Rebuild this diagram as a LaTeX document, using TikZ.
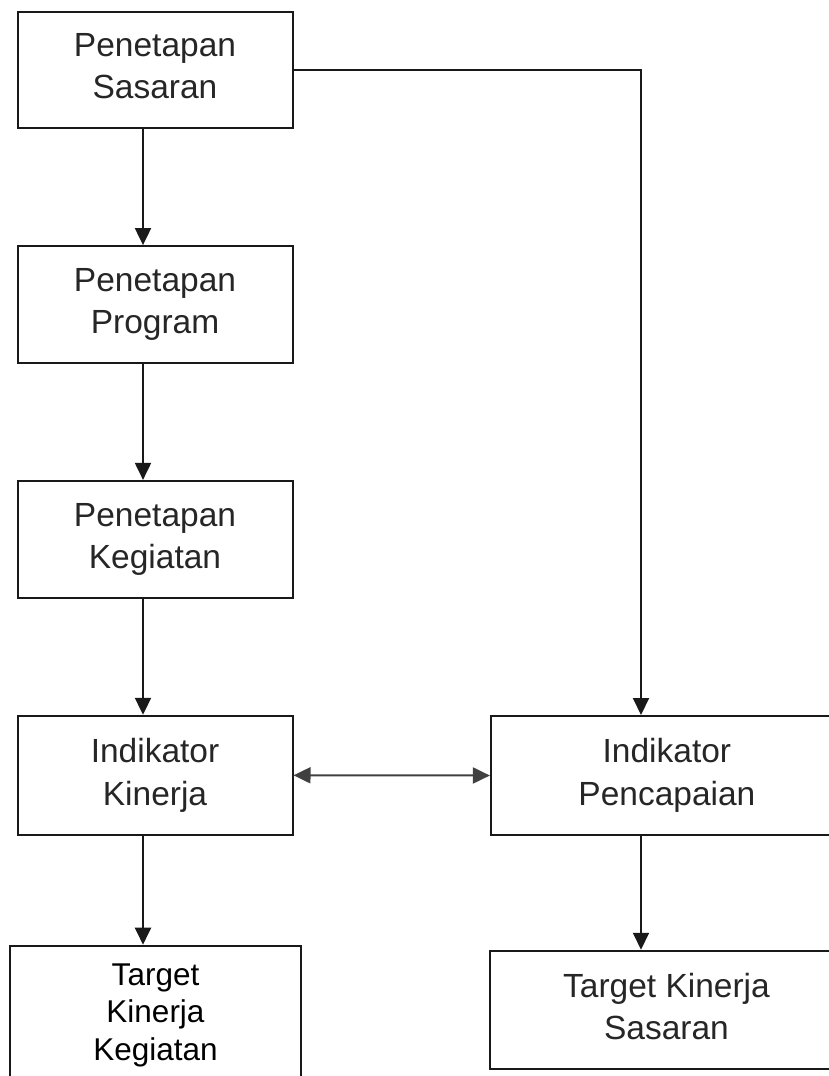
\documentclass[tikz,border=0pt]{standalone}
\usepackage{fontspec}
\setmainfont{Liberation Sans}
\usetikzlibrary{arrows.meta,calc}
\begin{document}
\begin{tikzpicture}[x=1pt,y=-1pt,
  box/.style={draw=black!90, line width=2pt, rectangle, inner sep=0pt, align=center,
    font=\fontsize{33.5}{42.5}\selectfont, text=black!85},
  arr/.style={line width=2pt, draw=black!90, -{Triangle[length=17pt,width=16pt]}},
  darr/.style={line width=2pt, draw=black!75, {Triangle[length=17pt,width=16pt]}-{Triangle[length=17pt,width=16pt]}}]
\useasboundingbox (0,0) rectangle (829,1076);
\coordinate (L) at (143,0);
\coordinate (R) at (641,0);
\node[box, minimum width=275pt, minimum height=116pt] (b1) at (155,69.6) {Penetapan\\Sasaran\vphantom{p}};
\node[box, minimum width=275pt, minimum height=117pt] (b2) at (155,304.6) {Penetapan\\Program};
\node[box, minimum width=275pt, minimum height=117pt] (b3) at (155,539.4) {Penetapan\\Kegiatan};
\node[box, minimum width=275pt, minimum height=119pt] (b4) at (155,775.3) {Indikator\\Kinerja};
\node[box, minimum width=291pt, minimum height=138.6pt, font=\fontsize{31.5}{37.5}\selectfont, text=black] (b5) at (155.5,1015) {Target\\Kinerja\\Kegiatan\vphantom{p}};
\node[box, minimum width=352pt, minimum height=119pt] (b7) at (666.9,775.5) {Indikator\\Pencapaian};
\node[box, minimum width=353pt, minimum height=118.3pt] (b6) at (666.5,1009.9) {Target Kinerja\\Sasaran\vphantom{p}};
\draw[arr] (b1.south -| L) -- (b2.north -| L);
\draw[arr] (b2.south -| L) -- (b3.north -| L);
\draw[arr] (b3.south -| L) -- (b4.north -| L);
\draw[arr] (b4.south -| L) -- (b5.north -| L);
\draw[arr] (b1.east) -| (b7.north -| R);
\draw[arr] (b7.south -| R) -- (b6.north -| R);
\draw[darr] (b4.east) -- (b7.west);
\end{tikzpicture}
\end{document}
